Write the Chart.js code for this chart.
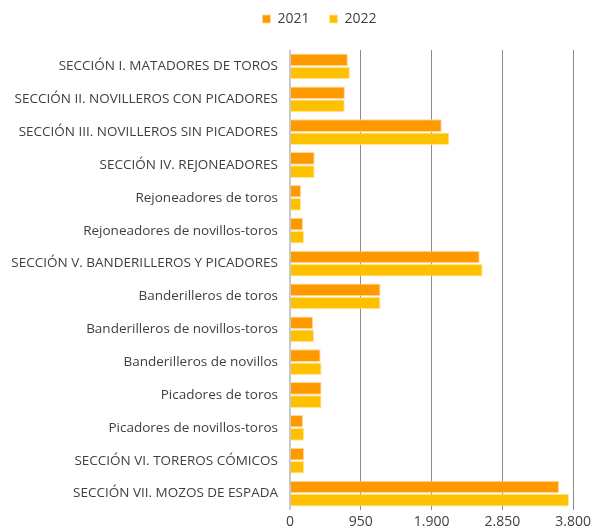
<!DOCTYPE html>
<html>
<head>
<meta charset="utf-8">
<script src="https://cdn.jsdelivr.net/npm/chart.js@4.4.0/dist/chart.umd.min.js"></script>
<style>
html,body{margin:0;padding:0;background:#fff;}
#wrap{width:595px;height:531px;position:relative;}
</style>
</head>
<body>
<div id="wrap"><canvas id="c" width="595" height="531"></canvas></div>
<script>
const categories = [
  "SECCIÓN I. MATADORES DE TOROS",
  "SECCIÓN II. NOVILLEROS CON PICADORES",
  "SECCIÓN III. NOVILLEROS SIN PICADORES",
  "SECCIÓN IV. REJONEADORES",
  "Rejoneadores de toros",
  "Rejoneadores de novillos-toros",
  "SECCIÓN V. BANDERILLEROS Y PICADORES",
  "Banderilleros de toros",
  "Banderilleros de novillos-toros",
  "Banderilleros de novillos",
  "Picadores de toros",
  "Picadores de novillos-toros",
  "SECCIÓN VI. TOREROS CÓMICOS",
  "SECCIÓN VII. MOZOS DE ESPADA"
];
const values2021 = [777, 737, 2037, 331, 150, 176, 2546, 1215, 309, 411, 424, 176, 190, 3611];
const values2022 = [804, 735, 2139, 331, 150, 190, 2585, 1215, 322, 424, 424, 190, 190, 3744];
const seriesLabels = ["2021", "2022"];
const xTicks = [0, 950, 1900, 2850, 3800];

const FONT = "'Open Sans', sans-serif";
function fmt(v){ return String(v).replace(/\B(?=(\d{3})+(?!\d))/g, "."); }

const legendTweak = {
  id: 'legendTweak',
  beforeLayout(chart) {
    const lg = chart.legend;
    if (lg && !lg._tweaked) {
      const f = lg.fit;
      lg.fit = function () { f.call(this); this.height += 6; };
      const d = lg.draw;
      lg.draw = function () {
        const dx = 31, dy = -8;
        this.left += dx; this.right += dx; this.top += dy; this.bottom += dy;
        d.call(this);
        this.left -= dx; this.right -= dx; this.top -= dy; this.bottom -= dy;
      };
      lg._tweaked = true;
    }
  }
};

new Chart(document.getElementById('c'), {
  type: 'bar',
  data: {
    labels: categories,
    datasets: [
      { label: seriesLabels[0], data: values2021, backgroundColor: '#FF9900', borderColor: 'rgba(255,214,150,0.9)', borderWidth: 1, categoryPercentage: 0.8, barPercentage: 0.96 },
      { label: seriesLabels[1], data: values2022, backgroundColor: '#FFC000', borderColor: 'rgba(255,228,150,0.9)', borderWidth: 1, categoryPercentage: 0.8, barPercentage: 0.96 }
    ]
  },
  plugins: [legendTweak],
  options: {
    indexAxis: 'y',
    responsive: false,
    animation: false,
    devicePixelRatio: 1,
    layout: { padding: { left: 0, right: 18, top: 0, bottom: 0 } },
    plugins: {
      legend: {
        position: 'top',
        labels: { boxWidth: 8, boxHeight: 8, color: '#404040', font: { family: FONT, size: 14 }, padding: 20 }
      },
      tooltip: { enabled: false }
    },
    scales: {
      y: {
        grid: { display: false, drawTicks: false },
        border: { display: false },
        ticks: { color: '#404040', font: { family: FONT, size: 13.5 }, padding: 12, autoSkip: false },
        afterFit: (s) => { s.width = 290; }
      },
      x: {
        min: 0, max: 3800,
        afterBuildTicks: (s) => { s.ticks = xTicks.map(v => ({ value: v })); },
        grid: {
          drawTicks: false,
          color: (ctx) => ctx.index === 0 ? '#c8c8c8' : '#8c8c8c',
          lineWidth: (ctx) => ctx.index === 0 ? 2 : 1
        },
        border: { display: false },
        ticks: { color: '#404040', font: { family: FONT, size: 14 }, padding: 4, callback: (v) => fmt(v), maxRotation: 0 },
        afterFit: (s) => { s.height = 21; }
      }
    }
  }
});
</script>
</body>
</html>
